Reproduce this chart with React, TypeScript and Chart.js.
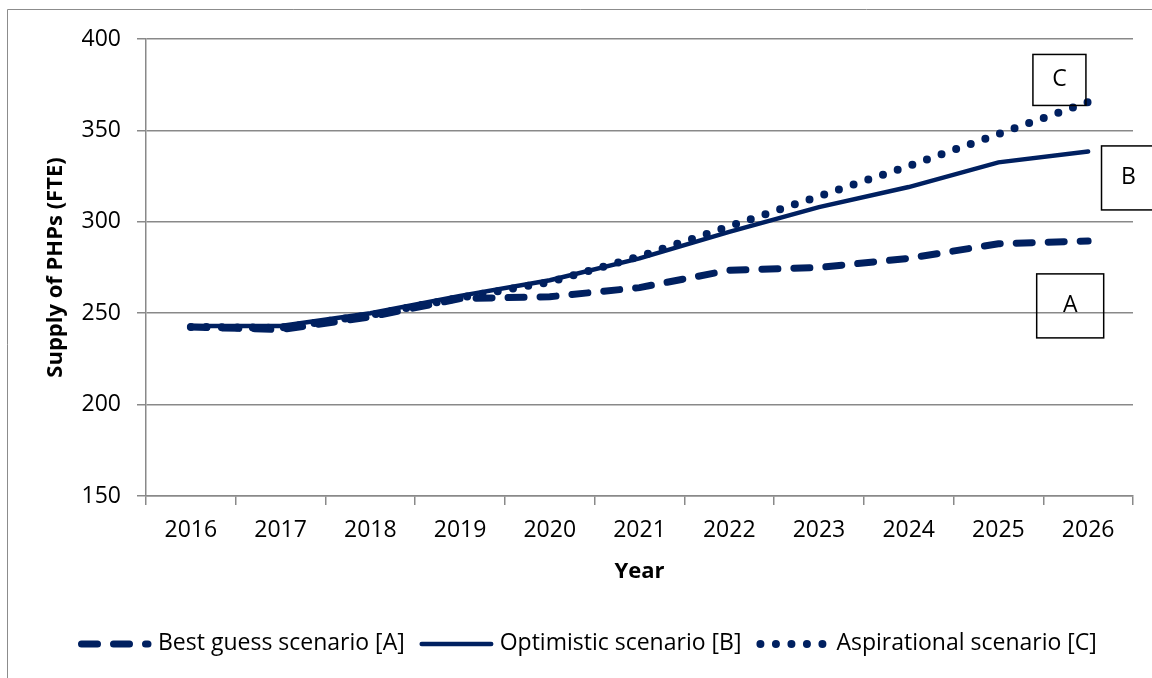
import React, { useEffect, useRef } from "react";
import { Chart, registerables } from "chart.js";

Chart.register(...registerables);

const years = ["2016", "2017", "2018", "2019", "2020", "2021", "2022", "2023", "2024", "2025", "2026"];
const bestGuess = [242.5, 241, 248, 258, 259, 264, 273.5, 275, 280, 288, 289.5];
const optimistic = [243, 243, 250, 259.5, 268, 280, 294.5, 308, 319, 332.5, 338.5];
const aspirational = [242.5, 242, 249, 258.5, 267, 281, 297.5, 314, 330.5, 348, 365.5];
const seriesNames = ["Best guess scenario [A]", "Optimistic scenario [B]", "Aspirational scenario [C]"];
const yTicks = [150, 200, 250, 300, 350, 400];
// annotation labels: letter, x (category index), y (value)
const boxLetters = ["C", "B", "A"];
const boxX = [9.68, 10.45, 9.8];
const boxY = [377.6, 324, 254];
const boxW = [53, 54, 67];
const boxH = [51, 64, 64];

const NAVY = "#002060";
const GRID = "#898989";
const FONT = "'Open Sans', 'Noto Sans', sans-serif";
const LEGEND_BOX = 68.5;

const lineStyles = [
  { width: 7, dash: [16, 16] },
  { width: 4.5, dash: [] as number[] },
  { width: 8, dash: [0, 15.5] },
];

const framePlugin = {
  id: "frame",
  beforeDraw(chart: any) {
    const ctx = chart.ctx;
    ctx.save();
    ctx.fillStyle = "#ffffff";
    ctx.fillRect(0, 0, chart.width, chart.height);
    ctx.strokeStyle = "#8c8c8c";
    ctx.lineWidth = 1;
    ctx.beginPath();
    ctx.moveTo(7.5, chart.height + 5);
    ctx.lineTo(7.5, 9.5);
    ctx.lineTo(chart.width + 5, 9.5);
    ctx.stroke();
    ctx.restore();
  },
  afterLayout(chart: any) {
    const lg = chart.legend;
    if (lg && lg.lineWidths) {
      const pad = lg.options.labels.padding;
      const start = (lg.left + pad + lg.right - lg.lineWidths[0]) / 2;
      const shift = 78 - start;
      lg.left += shift;
      lg.right += shift;
    }
  },
};

const legendSamplePlugin = {
  id: "legendSamples",
  afterDraw(chart: any) {
    const lg = chart.legend;
    if (!lg || !lg.legendHitBoxes) return;
    const ctx = chart.ctx;
    ctx.save();
    ctx.strokeStyle = NAVY;
    ctx.lineCap = "round";
    lg.legendHitBoxes.forEach((hb: any, i: number) => {
      const st = lineStyles[i];
      const y = hb.top + hb.height / 2 + 1;
      ctx.lineWidth = st.width;
      ctx.setLineDash(st.dash);
      const half = i === 1 ? 2 : st.width / 2;
      ctx.beginPath();
      ctx.moveTo(hb.left + half, y);
      ctx.lineTo(hb.left + LEGEND_BOX + 5 - half, y);
      ctx.stroke();
    });
    ctx.restore();
  },
};

const boxPlugin = {
  id: "boxes",
  afterDatasetsDraw(chart: any) {
    const ctx = chart.ctx;
    const xs = chart.scales.x;
    const ys = chart.scales.y;
    ctx.save();
    ctx.strokeStyle = "#000000";
    ctx.lineWidth = 1.5;
    ctx.fillStyle = "#000000";
    ctx.font = `23px ${FONT}`;
    ctx.textAlign = "center";
    ctx.textBaseline = "middle";
    boxLetters.forEach((t, i) => {
      const cx = xs.getPixelForValue(boxX[i]);
      const cy = ys.getPixelForValue(boxY[i]);
      ctx.strokeRect(cx - boxW[i] / 2, cy - boxH[i] / 2, boxW[i], boxH[i]);
      ctx.fillText(t, cx, cy);
    });
    ctx.restore();
  },
};

export default function App() {
  const ref = useRef<HTMLCanvasElement>(null);
  useEffect(() => {
    const canvas = ref.current;
    if (!canvas) return;
    const chart = new Chart(canvas, {
      type: "line",
      data: {
        labels: years,
        datasets: [
          {
            label: seriesNames[0],
            data: bestGuess,
            borderColor: NAVY,
            backgroundColor: NAVY,
            borderWidth: lineStyles[0].width,
            borderDash: lineStyles[0].dash,
            borderCapStyle: "round",
            pointRadius: 0,
            tension: 0,
          },
          {
            label: seriesNames[1],
            data: optimistic,
            borderColor: NAVY,
            backgroundColor: NAVY,
            borderWidth: lineStyles[1].width,
            borderCapStyle: "round",
            pointRadius: 0,
            tension: 0,
          },
          {
            label: seriesNames[2],
            data: aspirational,
            borderColor: NAVY,
            backgroundColor: NAVY,
            borderWidth: lineStyles[2].width,
            borderDash: lineStyles[2].dash,
            borderCapStyle: "round",
            pointRadius: 0,
            tension: 0,
          },
        ],
      },
      options: {
        responsive: false,
        animation: false,
        devicePixelRatio: 1,
        layout: { padding: { left: 0, top: 39, right: 19, bottom: 13.5 } },
        plugins: {
          tooltip: { enabled: false },
          legend: {
            position: "bottom",
            labels: {
              boxWidth: LEGEND_BOX,
              boxHeight: 0,
              padding: 15,
              color: "#000000",
              font: { family: FONT, size: 23 },
              generateLabels: (c: any) =>
                c.data.datasets.map((ds: any, i: number) => ({
                  text: ds.label,
                  fillStyle: "rgba(0,0,0,0)",
                  strokeStyle: "rgba(0,0,0,0)",
                  lineWidth: 0,
                  hidden: false,
                  datasetIndex: i,
                })),
            },
          },
        },
        scales: {
          x: {
            offset: true,
            afterFit: (s: any) => {
              s.height = 120.5;
            },
            grid: {
              offset: true,
              drawOnChartArea: false,
              drawTicks: true,
              tickLength: 9,
              color: GRID,
              lineWidth: 1.5,
            },
            border: { color: GRID, width: 1.5 },
            ticks: {
              color: "#000000",
              font: { family: FONT, size: 23 },
              padding: 12,
              maxRotation: 0,
            },
            title: {
              display: true,
              text: "Year",
              color: "#000000",
              font: { family: FONT, size: 22, weight: "bold" },
              padding: { top: 0, bottom: 31.3 },
            },
          },
          y: {
            min: 150,
            max: 400,
            afterFit: (s: any) => {
              s.width = 146;
            },
            afterBuildTicks: (s: any) => {
              s.ticks = yTicks.map((v) => ({ value: v }));
            },
            grid: {
              color: GRID,
              lineWidth: 1.5,
              drawTicks: true,
              tickLength: 9,
            },
            border: { color: GRID, width: 1.5 },
            ticks: {
              color: "#000000",
              font: { family: FONT, size: 23 },
              padding: 16,
            },
            title: {
              display: true,
              text: "Supply of PHPs (FTE)",
              color: "#000000",
              font: { family: FONT, size: 22, weight: "bold" },
              padding: { top: 43, bottom: 0 },
            },
          },
        },
      },
      plugins: [framePlugin, boxPlugin, legendSamplePlugin],
    });
    return () => chart.destroy();
  }, []);
  return (
    <div style={{ position: "fixed", left: 0, top: 0, width: 1152, height: 678, overflow: "hidden", background: "#fff" }}>
      <canvas ref={ref} width={1152} height={678} style={{ display: "block" }} />
    </div>
  );
}
